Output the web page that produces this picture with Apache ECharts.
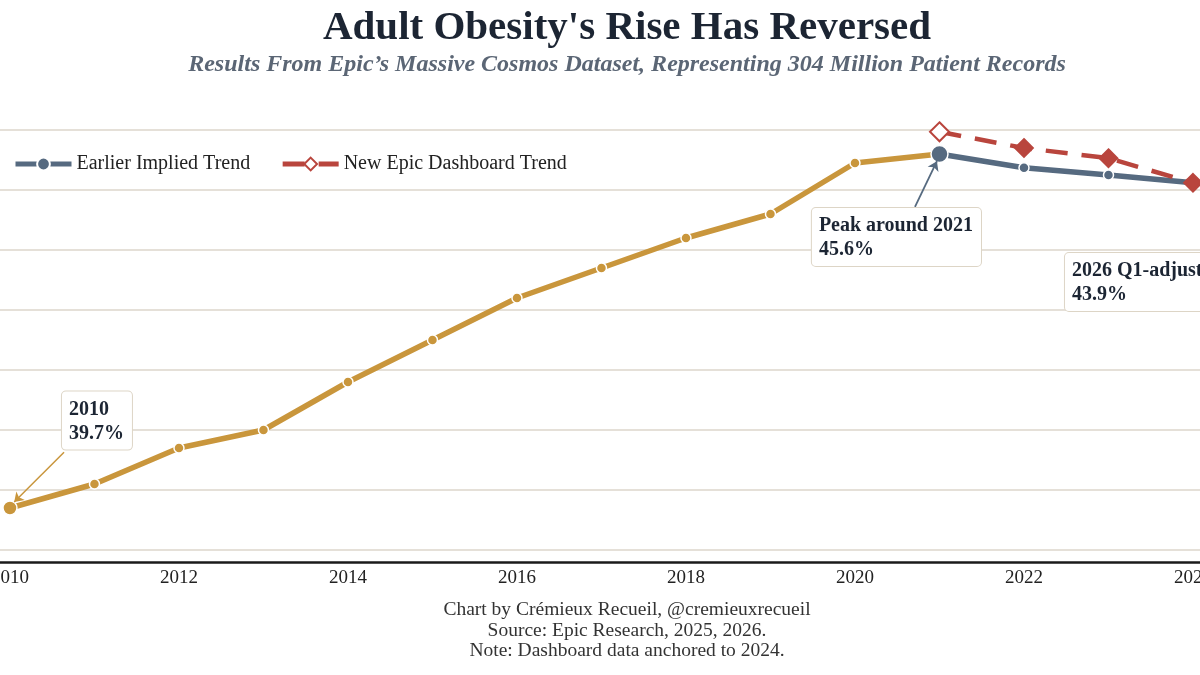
<!DOCTYPE html>
<html>
<head>
<meta charset="utf-8">
<script src="https://cdn.jsdelivr.net/npm/echarts@6/dist/echarts.min.js"></script>
<style>
  html, body { margin: 0; padding: 0; background: #fff; }
  #chart { width: 1200px; height: 675px; }
</style>
</head>
<body>
<div id="chart"></div>
<script>
// data (share of adults with obesity, %)
var historyYears = [2010, 2011, 2012, 2013, 2014, 2015, 2016, 2017, 2018, 2019, 2020, 2021];
var historyValues = [39.7, 40.1, 40.7, 41.0, 41.8, 42.5, 43.2, 43.7, 44.2, 44.6, 45.45, 45.6];

var trendYears = [2021, 2022, 2023, 2024];
var earlierTrend = [45.6, 45.37, 45.25, 45.12];
var dashboardTrend = [45.97, 45.7, 45.53, 45.12];

var xTicks = [2010, 2012, 2014, 2016, 2018, 2020, 2022, 2024];

var serif = '"Liberation Serif", "DejaVu Serif", serif';
var gold = '#c9963c';
var slate = '#566a80';
var red = '#b9453d';
var ink = '#1c2533';

function pairs(xs, ys) {
  return xs.map(function (x, i) { return [x, ys[i]]; });
}

// box label for annotations
function noteLabel(text) {
  return {
    show: true,
    position: [0, 0],
    align: 'left',
    verticalAlign: 'top',
    formatter: text,
    fontFamily: serif,
    fontWeight: 'bold',
    fontSize: 20,
    lineHeight: 24,
    color: ink,
    backgroundColor: '#fff',
    borderColor: '#ddd5c6',
    borderWidth: 1,
    borderRadius: 4,
    padding: [6, 8, 4, 7]
  };
}

var myChart = echarts.init(document.getElementById('chart'));
var option = {
  animation: false,
  backgroundColor: '#fff',
  // the original picture is cropped: 2010 sits just inside the left edge
  grid: { left: 0, right: 0, top: 130, bottom: 125, outerBoundsMode: 'none', containLabel: false },
  legend: {
    left: 8,
    top: 149,
    itemWidth: 56,
    itemHeight: 16,
    itemGap: 30,
    textStyle: { fontFamily: serif, fontSize: 20, color: '#222' },
    lineStyle: { width: 5 },
    data: ['Earlier Implied Trend', 'New Epic Dashboard Trend']
  },
  xAxis: {
    type: 'value',
    min: 2009.882,
    max: 2024.083,
    offset: 12,
    axisLine: { lineStyle: { color: '#1a1a1a', width: 2.5 } },
    axisTick: { show: false },
    splitLine: { show: false },
    axisLabel: {
      customValues: xTicks,
      fontFamily: serif, fontSize: 19, color: '#222', margin: 7,
      formatter: function (v) { return String(v); }
    }
  },
  yAxis: {
    type: 'value',
    min: 39,
    max: 46,
    interval: 1,
    axisLine: { show: false },
    axisTick: { show: false },
    axisLabel: { show: false },
    splitLine: { lineStyle: { color: '#ddd6cb', width: 1.5 } }
  },
  series: [{
    name: 'Observed',
    type: 'line',
    data: pairs(historyYears, historyValues),
    symbol: 'circle',
    symbolSize: function (v, p) { return p.dataIndex === 0 ? 14 : 10; },
    lineStyle: { color: gold, width: 5.5 },
    itemStyle: { color: gold, borderColor: '#fff', borderWidth: 1.5 },
    z: 2,
    markLine: {
      silent: true,
      symbol: ['none', 'arrow'],
      symbolSize: 9,
      label: { show: false },
      lineStyle: { color: gold, width: 1.5, type: 'solid' },
      data: [[{ coord: [2010.64, 40.63] }, { coord: [2010.05, 39.8] }]]
    },
    markPoint: {
      silent: true,
      symbol: 'rect',
      symbolSize: 0,
      data: [{ coord: [2010.615, 41.64], label: noteLabel('2010\n39.7%') }]
    }
  }, {
    name: 'Earlier Implied Trend',
    type: 'line',
    data: pairs(trendYears, earlierTrend),
    symbol: 'circle',
    symbolSize: function (v, p) { return p.dataIndex === 0 ? 17 : 10; },
    lineStyle: { color: slate, width: 5.5 },
    itemStyle: { color: slate, borderColor: '#fff', borderWidth: 1.5 },
    z: 3,
    markLine: {
      silent: true,
      symbol: ['none', 'arrow'],
      symbolSize: 9,
      label: { show: false },
      lineStyle: { color: slate, width: 1.8, type: 'solid' },
      data: [[{ coord: [2020.71, 44.72] }, { coord: [2020.97, 45.48] }]]
    },
    markPoint: {
      silent: true,
      symbol: 'rect',
      symbolSize: 0,
      data: [
        { coord: [2019.49, 44.70], label: noteLabel('Peak around 2021\n45.6%') },
        { coord: [2022.485, 43.95], label: noteLabel('2026 Q1-adjusted\n43.9%') }
      ]
    }
  }, {
    name: 'New Epic Dashboard Trend',
    type: 'line',
    data: pairs(trendYears, dashboardTrend).map(function (d, i) {
      return i === 0 ? { value: d } : { value: d, symbol: 'diamond', symbolSize: 17 };
    }),
    symbol: 'emptyDiamond',
    symbolSize: 19,
    lineStyle: { color: red, width: 4.5, type: [22, 14] },
    itemStyle: { color: red, borderColor: red, borderWidth: 2.5 },
    z: 4
  }],
  graphic: [{
    type: 'text',
    x: 627, y: 28,
    style: {
      text: "Adult Obesity's Rise Has Reversed",
      font: 'bold 41px ' + serif,
      fill: ink,
      textAlign: 'center',
      textVerticalAlign: 'middle'
    }
  }, {
    type: 'text',
    x: 627, y: 65,
    style: {
      text: "Results From Epic\u2019s Massive Cosmos Dataset, Representing 304 Million Patient Records",
      font: 'italic bold 24px ' + serif,
      fill: '#5b6675',
      textAlign: 'center',
      textVerticalAlign: 'middle'
    }
  }, {
    type: 'text',
    x: 627, y: 600,
    style: {
      text: 'Chart by Cr\u00e9mieux Recueil, @cremieuxrecueil\nSource: Epic Research, 2025, 2026.\nNote: Dashboard data anchored to 2024.',
      font: '19.5px ' + serif,
      lineHeight: 20.5,
      fill: '#333',
      textAlign: 'center'
    }
  }]
};
myChart.setOption(option);
</script>
</body>
</html>
